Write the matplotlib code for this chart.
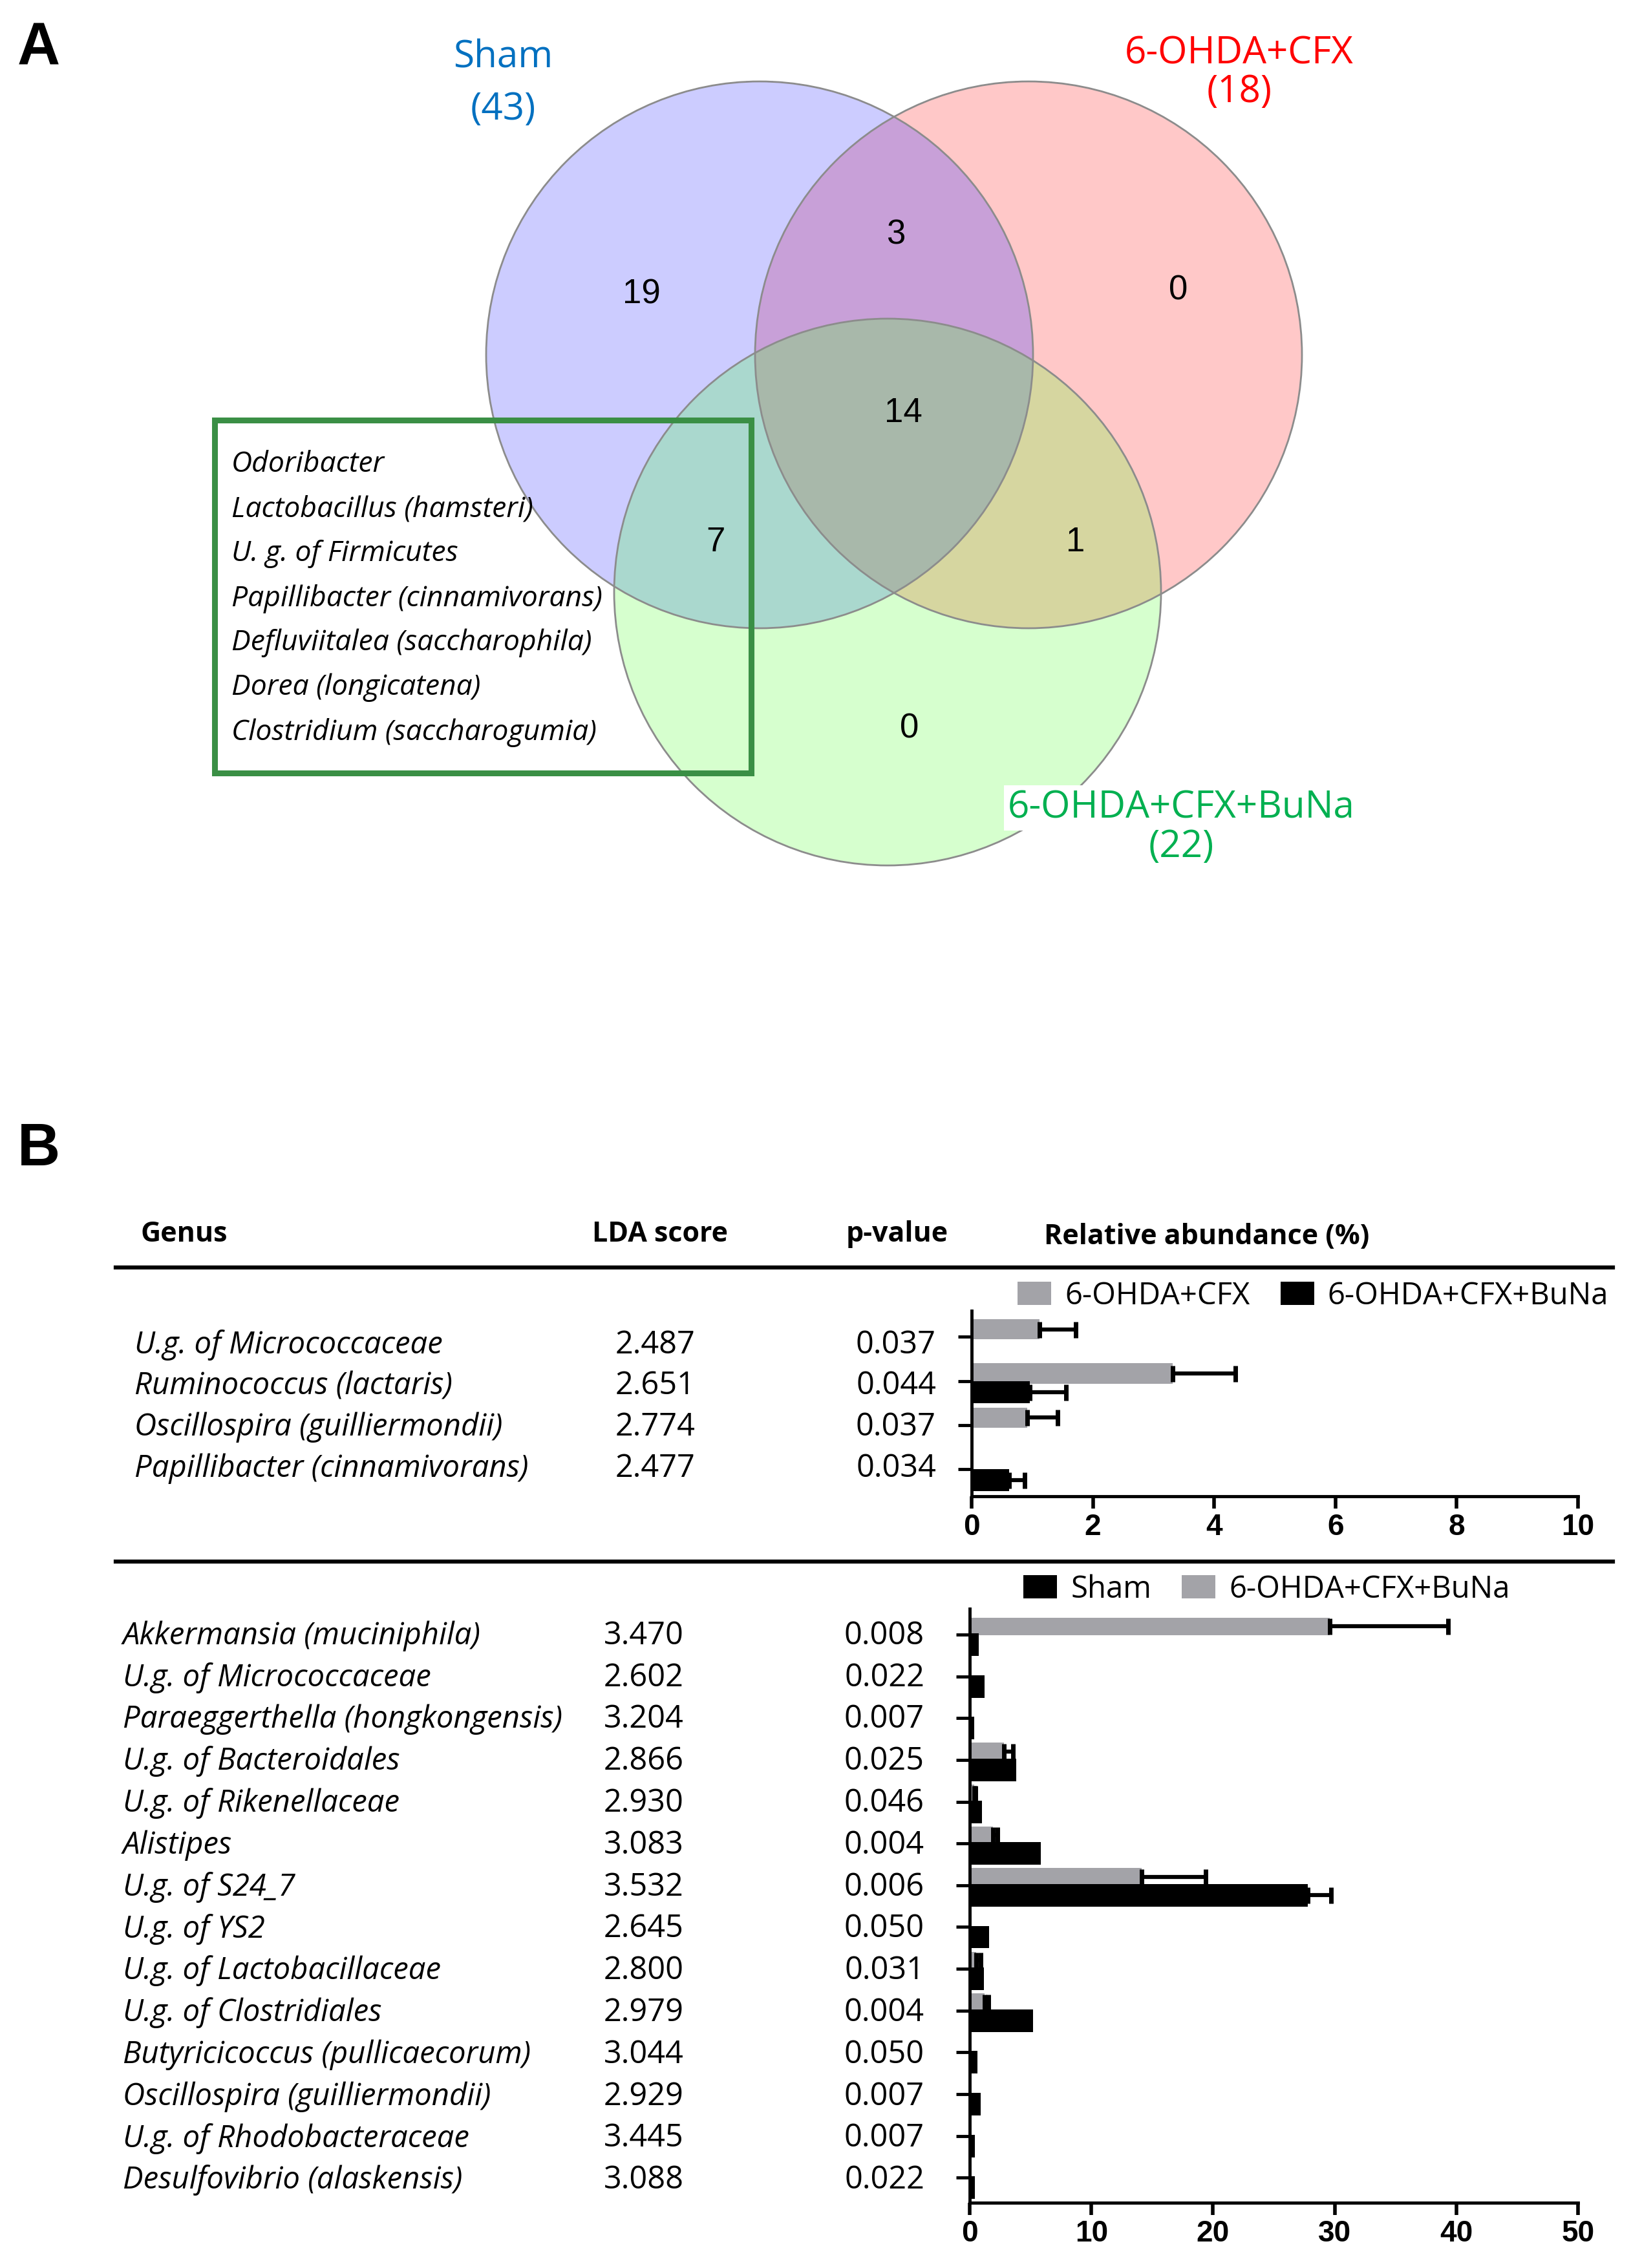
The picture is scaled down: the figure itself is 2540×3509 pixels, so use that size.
import numpy as np
import matplotlib
matplotlib.use('Agg')
import matplotlib.pyplot as plt
from matplotlib.patches import Circle, Rectangle, Patch
from matplotlib.lines import Line2D
from matplotlib.colors import to_rgba

plt.rcParams['font.family'] = ['Open Sans', 'DejaVu Sans']

# ---------------- data: venn (panel A) ----------------
venn_names = ['Sham', '6-OHDA+CFX', '6-OHDA+CFX+BuNa']
venn_totals = [43, 18, 22]
venn_text_colors = ['#0070c0', '#ff0000', '#00b050']
# membership key = (Sham, CFX, BuNa)
region_keys = ['100', '010', '001', '110', '101', '011', '111']
region_counts = [19, 0, 0, 3, 7, 1, 14]
region_fill = ['#ccccff', '#ffc8c8', '#d6ffce', '#c8a0d8', '#aad8ce', '#d6d6a0', '#a8b8aa']
shared_genera = ['Odoribacter', 'Lactobacillus (hamsteri)', 'U. g. of Firmicutes',
                 'Papillibacter (cinnamivorans)', 'Defluviitalea (saccharophila)',
                 'Dorea (longicatena)', 'Clostridium (saccharogumia)']

# ---------------- data: LEfSe table (panel B, top) ----------------
top_genus = ['U.g. of Micrococcaceae', 'Ruminococcus (lactaris)',
             'Oscillospira (guilliermondii)', 'Papillibacter (cinnamivorans)']
top_lda = ['2.487', '2.651', '2.774', '2.477']
top_p = ['0.037', '0.044', '0.037', '0.034']
top_cfx = [1.12, 3.32, 0.92, 0.0]
top_cfx_err = [0.60, 1.03, 0.50, 0.0]
top_buna = [0.0, 0.96, 0.0, 0.62]
top_buna_err = [0.0, 0.60, 0.0, 0.25]

# ---------------- data: LEfSe table (panel B, bottom) ----------------
bot_genus = ['Akkermansia (muciniphila)', 'U.g. of Micrococcaceae',
             'Paraeggerthella (hongkongensis)', 'U.g. of Bacteroidales',
             'U.g. of Rikenellaceae', 'Alistipes', 'U.g. of S24_7', 'U.g. of YS2',
             'U.g. of Lactobacillaceae', 'U.g. of Clostridiales',
             'Butyricicoccus (pullicaecorum)', 'Oscillospira (guilliermondii)',
             'U.g. of Rhodobacteraceae', 'Desulfovibrio (alaskensis)']
bot_lda = ['3.470', '2.602', '3.204', '2.866', '2.930', '3.083', '3.532',
           '2.645', '2.800', '2.979', '3.044', '2.929', '3.445', '3.088']
bot_p = ['0.008', '0.022', '0.007', '0.025', '0.046', '0.004', '0.006',
         '0.050', '0.031', '0.004', '0.050', '0.007', '0.007', '0.022']
bot_sham = [0.73, 1.24, 0.37, 3.84, 0.99, 5.85, 27.8, 1.6, 1.17, 5.19, 0.62, 0.91, 0.44, 0.44]
bot_sham_err = [0, 0, 0, 0, 0, 0, 1.9, 0, 0, 0, 0, 0, 0, 0]
bot_buna = [29.6, 0, 0, 2.82, 0.37, 1.9, 14.15, 0.15, 0.51, 1.24, 0.1, 0, 0, 0.1]
bot_buna_err = [9.7, 0, 0, 0.73, 0.1, 0.37, 5.25, 0, 0.37, 0.3, 0, 0, 0, 0]

GRAY = '#a3a3a8'
W, H = 2540, 3509
fig = plt.figure(figsize=(W / 100, H / 100), dpi=100)


def fy(py):
    return 1 - py / H


# ---------------- panel A ----------------
axv = fig.add_axes([0, 0, 1, 1])
centers = [(1175, 549), (1591, 549), (1373, 916)]
radii = [423, 423, 423]

x0, x1, y0, y1 = 720, 2040, 100, 1360
xx, yy = np.meshgrid(np.arange(x0, x1) + 0.5, np.arange(y0, y1) + 0.5)
inside = [((xx - cx) ** 2 + (yy - cy) ** 2) <= r ** 2 for (cx, cy), r in zip(centers, radii)]
img = np.zeros(xx.shape + (4,))
for key, col in zip(region_keys, region_fill):
    m = np.ones(xx.shape, bool)
    for k, ins in zip(key, inside):
        m &= ins if k == '1' else ~ins
    img[m] = to_rgba(col)
axv.imshow(img, extent=(x0, x1, y1, y0), interpolation='nearest', zorder=1)
for c, r in zip(centers, radii):
    axv.add_patch(Circle(c, r, fill=False, edgecolor='#8c8c8c', lw=2, zorder=2))

count_pos = [(992, 455), (1823, 449), (1407, 1127), (1386, 364), (1107, 839), (1664, 839), (1397, 639)]
for (cx, cy), n in zip(count_pos, region_counts):
    axv.text(cx, cy, str(n), ha='center', va='center', fontsize=38,
             family='Liberation Sans', zorder=4)

label_pos = [(778, 89, 170), (1917, 83, 143), (1827, 1250, 1311)]
for (lx, ly, ly2), name, tot, col in zip(label_pos, venn_names, venn_totals, venn_text_colors):
    bb = dict(facecolor='white', edgecolor='none', pad=4) if name.endswith('BuNa') else None
    axv.text(lx, ly, name, ha='center', va='center', fontsize=42, color=col, zorder=5, bbox=bb)
    axv.text(lx, ly2, '(%d)' % tot, ha='center', va='center', fontsize=42, color=col, zorder=5, bbox=bb)

axv.add_patch(Rectangle((332, 650), 830, 546, fill=False, edgecolor='#3a8f45', lw=6.5, zorder=6))
for i, g in enumerate(shared_genera):
    axv.text(358, 719 + i * 69, g, ha='left', va='center', fontsize=32, style='italic', zorder=6)

axv.text(60, 76, 'A', ha='center', va='center', fontsize=66, fontweight='bold', family='Liberation Sans')
axv.text(60, 1779, 'B', ha='center', va='center', fontsize=66, fontweight='bold', family='Liberation Sans')
axv.set_xlim(0, W)
axv.set_ylim(H, 0)
axv.set_aspect('auto')
axv.axis('off')

# ---------------- panel B header ----------------
fig.text(217 / W, fy(1909), 'Genus', ha='left', va='center', fontsize=31, fontweight='bold')
fig.text(1021 / W, fy(1909), 'LDA score', ha='center', va='center', fontsize=31, fontweight='bold')
fig.text(1388 / W, fy(1909), 'p-value', ha='center', va='center', fontsize=31, fontweight='bold')
fig.text(1867 / W, fy(1913), 'Relative abundance (%)', ha='center', va='center', fontsize=31, fontweight='bold')
for ly in [1961, 2416]:
    fig.add_artist(Line2D([179 / W, 2495 / W], [fy(ly), fy(ly)], lw=4.5, color='black',
                          transform=fig.transFigure))


def draw_panel(rect, genus, lda, p, series, legend_order, xmax, xstep, ylim,
               name_x, lda_x, p_x, row_y0, row_dy, leg_xy):
    ax = fig.add_axes(rect)
    pos = np.arange(len(genus))
    handles = {}
    for vals, errs, color, label, offset, height in series:
        ax.barh(pos + offset, vals, height=height, color=color, zorder=2)
        keep = [i for i, e in enumerate(errs) if e > 0]
        if keep:
            ax.errorbar([vals[i] for i in keep], [pos[i] + offset for i in keep],
                        xerr=[[0] * len(keep), [errs[i] for i in keep]],
                        fmt='none', ecolor='black', elinewidth=4.5, capsize=9, capthick=5, zorder=3)
        handles[label] = Patch(facecolor=color, label=label)
    ax.set_xlim(0, xmax)
    ax.set_ylim(*ylim)
    ax.set_xticks(np.arange(0, xmax + 1, xstep))
    ax.set_yticks(pos)
    ax.set_yticklabels([])
    for s in ['top', 'right']:
        ax.spines[s].set_visible(False)
    for s in ['left', 'bottom']:
        ax.spines[s].set_linewidth(3.5)
    ax.tick_params(axis='x', length=14, width=4, pad=5, labelsize=33)
    ax.tick_params(axis='y', length=15, width=3.5)
    for lab in ax.get_xticklabels():
        lab.set_fontweight('bold')
        lab.set_family('Liberation Sans')
    ax.legend(handles=[handles[k] for k in legend_order], loc='center left',
              bbox_to_anchor=leg_xy, bbox_transform=fig.transFigure,
              ncol=2, frameon=False, fontsize=34, handlelength=1.1, handleheight=0.8,
              handletextpad=0.45, columnspacing=1.0, borderpad=0, borderaxespad=0)
    for i in range(len(genus)):
        ty = fy(row_y0 + i * row_dy)
        fig.text(name_x / W, ty, genus[i], ha='left', va='center', fontsize=34, style='italic')
        fig.text(lda_x / W, ty, lda[i], ha='center', va='center', fontsize=35)
        fig.text(p_x / W, ty, p[i], ha='center', va='center', fontsize=35)
    return ax


draw_panel([1503 / W, fy(2315), 938 / W, 287 / H], top_genus, top_lda, top_p,
           [(top_cfx, top_cfx_err, GRAY, '6-OHDA+CFX', -0.17, 0.46),
            (top_buna, top_buna_err, 'black', '6-OHDA+CFX+BuNa', 0.25, 0.5)],
           ['6-OHDA+CFX', '6-OHDA+CFX+BuNa'],
           10, 2, (3.61, -0.59), 208, 1014, 1386, 2081, 63.7, (1574 / W, fy(2005)))

draw_panel([1500 / W, fy(3408), 941 / W, (3408 - 2489) / H], bot_genus, bot_lda, bot_p,
           [(bot_buna, bot_buna_err, GRAY, '6-OHDA+CFX+BuNa', -0.2, 0.42),
            (bot_sham, bot_sham_err, 'black', 'Sham', 0.24, 0.54)],
           ['Sham', '6-OHDA+CFX+BuNa'],
           50, 10, (13.6, -0.62), 190, 996, 1368, 2531, 64.8, (1583 / W, fy(2459)))

fig.savefig('out.png', dpi=100)
